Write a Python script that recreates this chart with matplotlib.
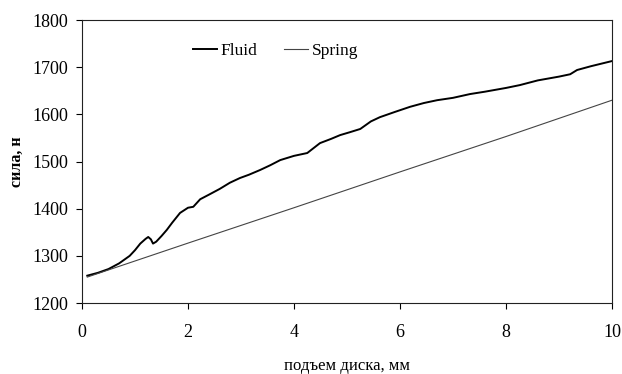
import matplotlib
matplotlib.use("Agg")
import matplotlib.pyplot as plt

fluid_x = [0.10, 0.30, 0.50, 0.70, 0.90, 1.00, 1.10, 1.20, 1.25, 1.30, 1.34, 1.40,
           1.50, 1.60, 1.70, 1.85, 2.00, 2.10, 2.23, 2.40, 2.60, 2.79, 2.98, 3.15,
           3.36, 3.55, 3.74, 4.00, 4.25, 4.49, 4.70, 4.87, 5.05, 5.25, 5.30, 5.45,
           5.62, 5.90, 6.19, 6.45, 6.70, 7.00, 7.32, 7.60, 8.00, 8.26, 8.60, 9.00,
           9.21, 9.34, 9.60, 10.0]
fluid_y = [1258, 1264, 1272, 1284, 1300, 1312, 1326, 1336, 1340, 1335, 1326, 1330,
           1342, 1355, 1370, 1391, 1402, 1404, 1420, 1430, 1442, 1455, 1465, 1472,
           1482, 1492, 1503, 1512, 1518, 1539, 1548, 1556, 1562, 1569, 1573, 1585,
           1594, 1605, 1616, 1624, 1630, 1635, 1643, 1648, 1656, 1662, 1672, 1680,
           1685, 1694, 1702, 1713]
spring_x = [0.10, 2.0, 4.0, 6.0, 8.0, 10.0]
spring_y = [1255, 1327, 1402, 1478, 1553, 1630]

xticks = [0, 2, 4, 6, 8, 10]
yticks = [1200, 1300, 1400, 1500, 1600, 1700, 1800]

plt.rcParams['font.family'] = ['Liberation Serif', 'DejaVu Serif']

fig = plt.figure(figsize=(6.22, 3.74), dpi=100)
ax = fig.add_axes([0.1318, 0.1898, 0.8522, 0.7567])

ax.plot(fluid_x, fluid_y, color='black', lw=1.4, label='Fluid')
ax.plot(spring_x, spring_y, color='#444444', lw=0.8, label='Spring')

ax.set_xlim(0, 10)
ax.set_ylim(1200, 1800)
ax.set_xticks(xticks)
ax.set_yticks(yticks)
ax.tick_params(direction='out', length=4, width=0.8, labelsize=13, pad=6)
ax.tick_params(axis='x', pad=11)
for s in ax.spines.values():
    s.set_linewidth(0.8)
    s.set_color('#222222')

ax.set_xlabel('подъем диска, мм', fontsize=12, labelpad=12)
ax.set_ylabel('сила, н', fontsize=11.5, fontweight='bold', labelpad=5)

ax.legend(loc='center', bbox_to_anchor=(0.365, 0.89), ncol=2, frameon=False,
          fontsize=12.5, handlelength=1.4, handletextpad=0.2, columnspacing=1.55)

fig.savefig('out.png', dpi=100)
